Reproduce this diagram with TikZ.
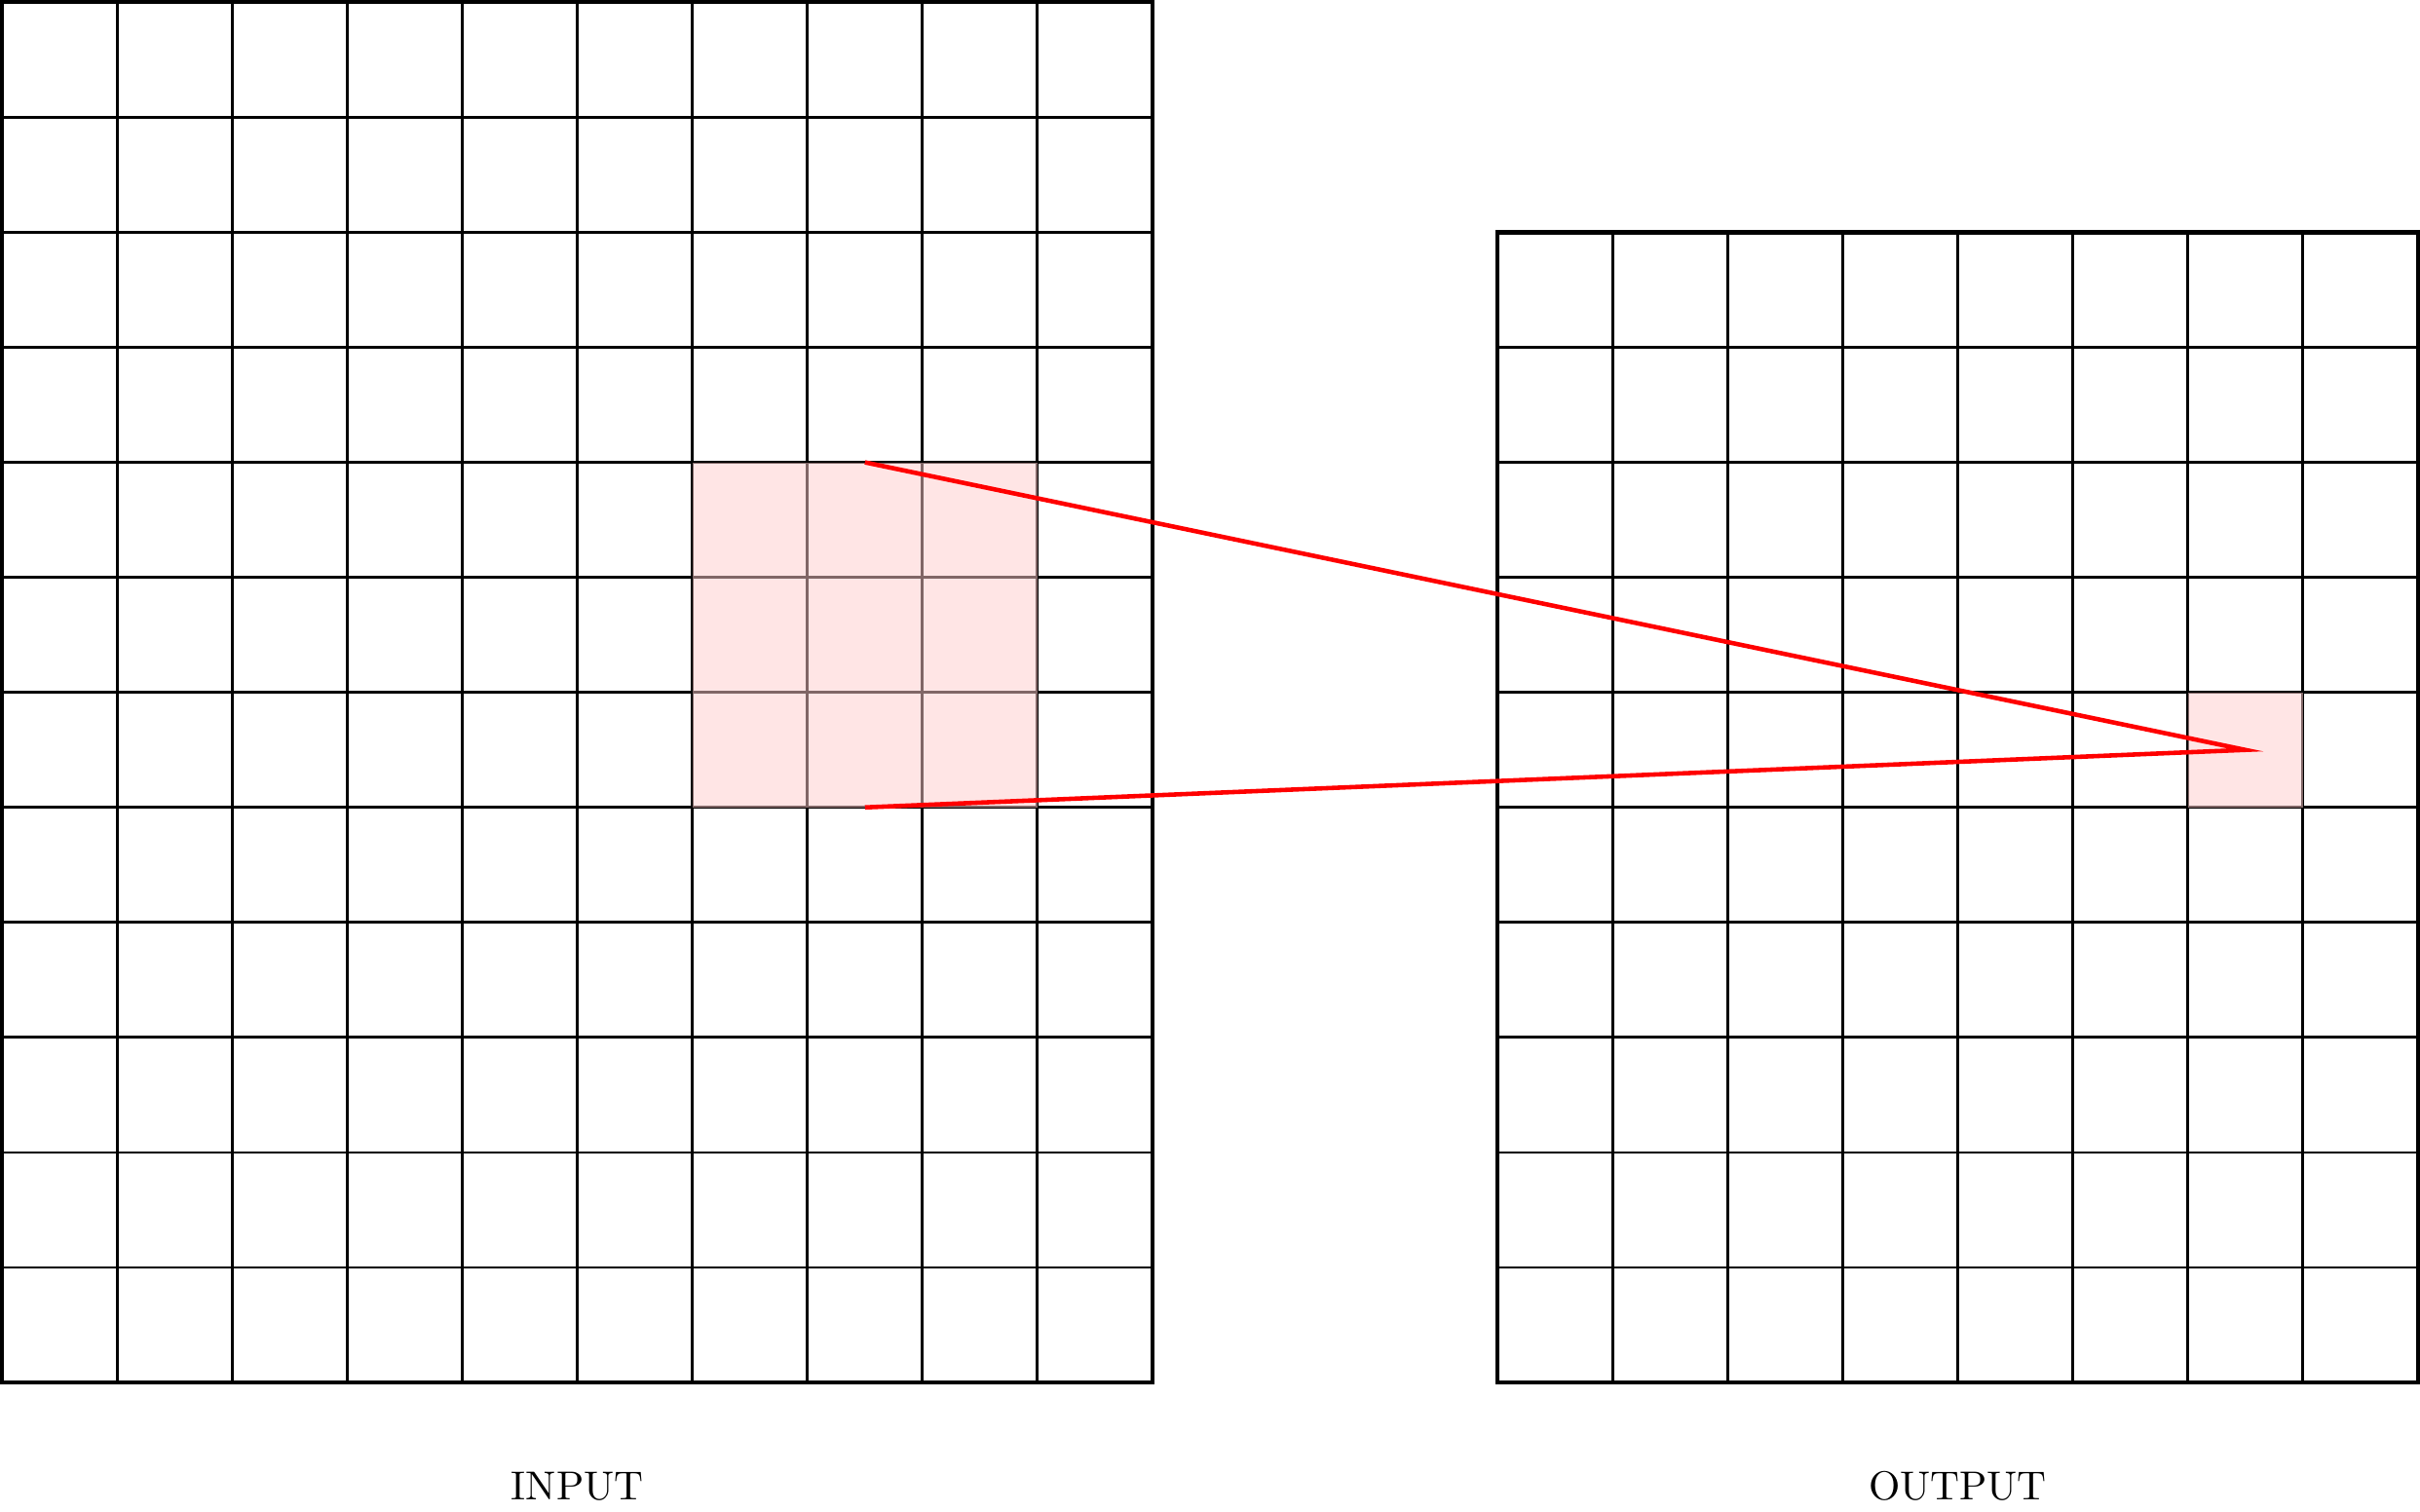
\documentclass[tikz,border=0pt]{standalone}
\usepackage{tikz}

\begin{document}
\begin{tikzpicture}[gridline/.style={line width=0.7pt},frameline/.style={line width=1pt},window/.style={fill=red!20,fill opacity=0.5},rfield/.style={red,line width=1.1pt}]

\useasboundingbox (-0.02,-1.12) rectangle (21.02,12.02);

\draw[gridline] (0,0) grid[step=1] (10,12);
\draw[frameline] (0,0) rectangle (10,12);

\draw[gridline] (13,0) grid[step=1] (21,10);
\draw[frameline] (13,0) rectangle (21,10);

\fill[window] (6,5) rectangle (9,8);
\fill[window] (19,5) rectangle (20,6);

\coordinate (intop) at (7.5,8);
\coordinate (inbot) at (7.5,5);
\coordinate (outpx) at (19.5,5.5);

\draw[rfield] (intop) -- (outpx) -- (inbot);

\draw(5,-0.9) node[align=center](inlabel){INPUT};
\draw(17,-0.9) node[align=center](outlabel){OUTPUT};

\end{tikzpicture}
\end{document}
